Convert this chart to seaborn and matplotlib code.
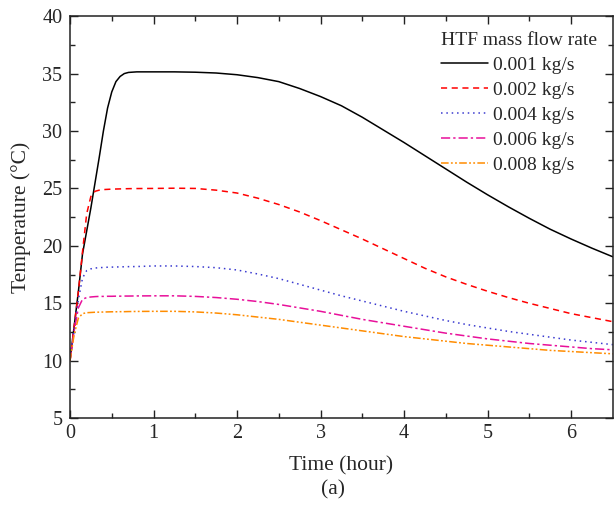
import numpy as np
import pandas as pd
import seaborn as sns
import matplotlib
matplotlib.use("Agg")
import matplotlib.pyplot as plt

time_h = [0, 0.05, 0.1, 0.15, 0.2, 0.25, 0.3, 0.35, 0.4, 0.45, 0.5, 0.55, 0.6, 0.65, 0.7, 0.8,
          1.0, 1.25, 1.5, 1.75, 2.0, 2.25, 2.5, 2.75, 3.0, 3.25, 3.5, 3.75, 4.0, 4.25, 4.5,
          4.75, 5.0, 5.25, 5.5, 5.75, 6.0, 6.25, 6.5]
t_0001 = [10, 13, 16, 19.3, 21.3, 23.3, 25.5, 27.7, 30.0, 32.0, 33.4, 34.3, 34.75, 35.0, 35.1, 35.15,
          35.15, 35.15, 35.12, 35.05, 34.9, 34.65, 34.3, 33.7, 33.0, 32.2, 31.2, 30.1, 29.0, 27.85, 26.7,
          25.55, 24.45, 23.4, 22.4, 21.45, 20.6, 19.8, 19.05]
t_0002 = [10, 13, 16, 19.5, 22.8, 24.3, 24.75, 24.85, 24.9, 24.92, 24.94, 24.95, 24.96, 24.97, 24.98, 24.99,
          25.0, 25.02, 25.0, 24.85, 24.6, 24.15, 23.6, 22.95, 22.2, 21.4, 20.6, 19.75, 18.9, 18.05, 17.3,
          16.65, 16.05, 15.5, 15.0, 14.55, 14.1, 13.75, 13.4]
t_0004 = [10, 12.8, 15.3, 17.2, 17.85, 18.0, 18.07, 18.1, 18.12, 18.14, 18.15, 18.16, 18.17, 18.18, 18.19, 18.2,
          18.25, 18.25, 18.2, 18.1, 17.9, 17.55, 17.15, 16.65, 16.15, 15.65, 15.2, 14.75, 14.3, 13.9, 13.5,
          13.15, 12.85, 12.55, 12.3, 12.05, 11.8, 11.6, 11.4]
t_0006 = [10, 12.6, 14.6, 15.35, 15.5, 15.55, 15.58, 15.6, 15.6, 15.61, 15.61, 15.62, 15.62, 15.63, 15.63, 15.64,
          15.65, 15.65, 15.6, 15.5, 15.35, 15.15, 14.9, 14.6, 14.3, 13.95, 13.6, 13.3, 13.0, 12.7, 12.4,
          12.15, 11.9, 11.7, 11.5, 11.35, 11.2, 11.05, 10.95]
t_0008 = [10, 12.3, 13.7, 14.1, 14.18, 14.2, 14.22, 14.23, 14.24, 14.25, 14.26, 14.26, 14.27, 14.27, 14.28, 14.29,
          14.3, 14.3, 14.25, 14.15, 14.0, 13.8, 13.6, 13.35, 13.1, 12.85, 12.6, 12.35, 12.1, 11.9, 11.7,
          11.5, 11.35, 11.2, 11.05, 10.9, 10.8, 10.7, 10.6]
labels = ["0.001 kg/s", "0.002 kg/s", "0.004 kg/s", "0.006 kg/s", "0.008 kg/s"]
series = [t_0001, t_0002, t_0004, t_0006, t_0008]

colors = ["#000000", "#ff0000", "#3a3ad0", "#e8109a", "#ff8c00"]
styles = ["-", (0, (4, 3)), (0, (1, 2.5)), (0, (6, 2, 1.5, 2)), (0, (5, 1.5, 1.2, 1.5, 1.2, 1.5))]

sns.set_style("ticks")
plt.rcParams["font.family"] = ["Liberation Serif", "DejaVu Serif"]

fig = plt.figure(figsize=(6.14, 5.05), dpi=100)
ax = fig.add_axes([0.114, 0.172, 0.884, 0.796])

for lab, vals, c, ls in zip(labels, series, colors, styles):
    df = pd.DataFrame({"Time": time_h, "Temp": vals})
    sns.lineplot(data=df, x="Time", y="Temp", ax=ax, color=c, linestyle=ls,
                 linewidth=1.1, label=lab)

ax.set_xlim(0, 6.5)
ax.set_ylim(5, 40)
ax.set_xticks([0, 1, 2, 3, 4, 5, 6])
ax.set_yticks([5, 10, 15, 20, 25, 30, 35, 40])
ax.set_xticks(np.arange(0.5, 6.5, 1.0), minor=True)
ax.set_yticks(np.arange(7.5, 40, 5), minor=True)
ax.tick_params(which="both", direction="in", top=True, right=True, labelsize=14.5,
               width=1.0, color="#222222")
ax.tick_params(which="major", length=6)
ax.tick_params(which="minor", length=3.5)
ax.tick_params(axis="y", which="both", pad=5.5)
ax.tick_params(axis="x", which="both", pad=4.5)
for sp in ax.spines.values():
    sp.set_linewidth(1.1)
    sp.set_color("#222222")

ax.set_xlabel("Time (hour)", fontsize=15.5, labelpad=9)
ax.set_ylabel("Temperature (°C)", fontsize=15.5, labelpad=8)

leg = ax.legend(title="HTF mass flow rate", loc="upper right", frameon=False,
                fontsize=14, title_fontsize=14, handlelength=2.4,
                handletextpad=0.25, labelspacing=0.38, borderaxespad=0.4)
leg._legend_box.align = "left"

fig.text(0.542, 0.03, "(a)", ha="center", va="center", fontsize=15.5)

fig.savefig("out.png", dpi=100)
